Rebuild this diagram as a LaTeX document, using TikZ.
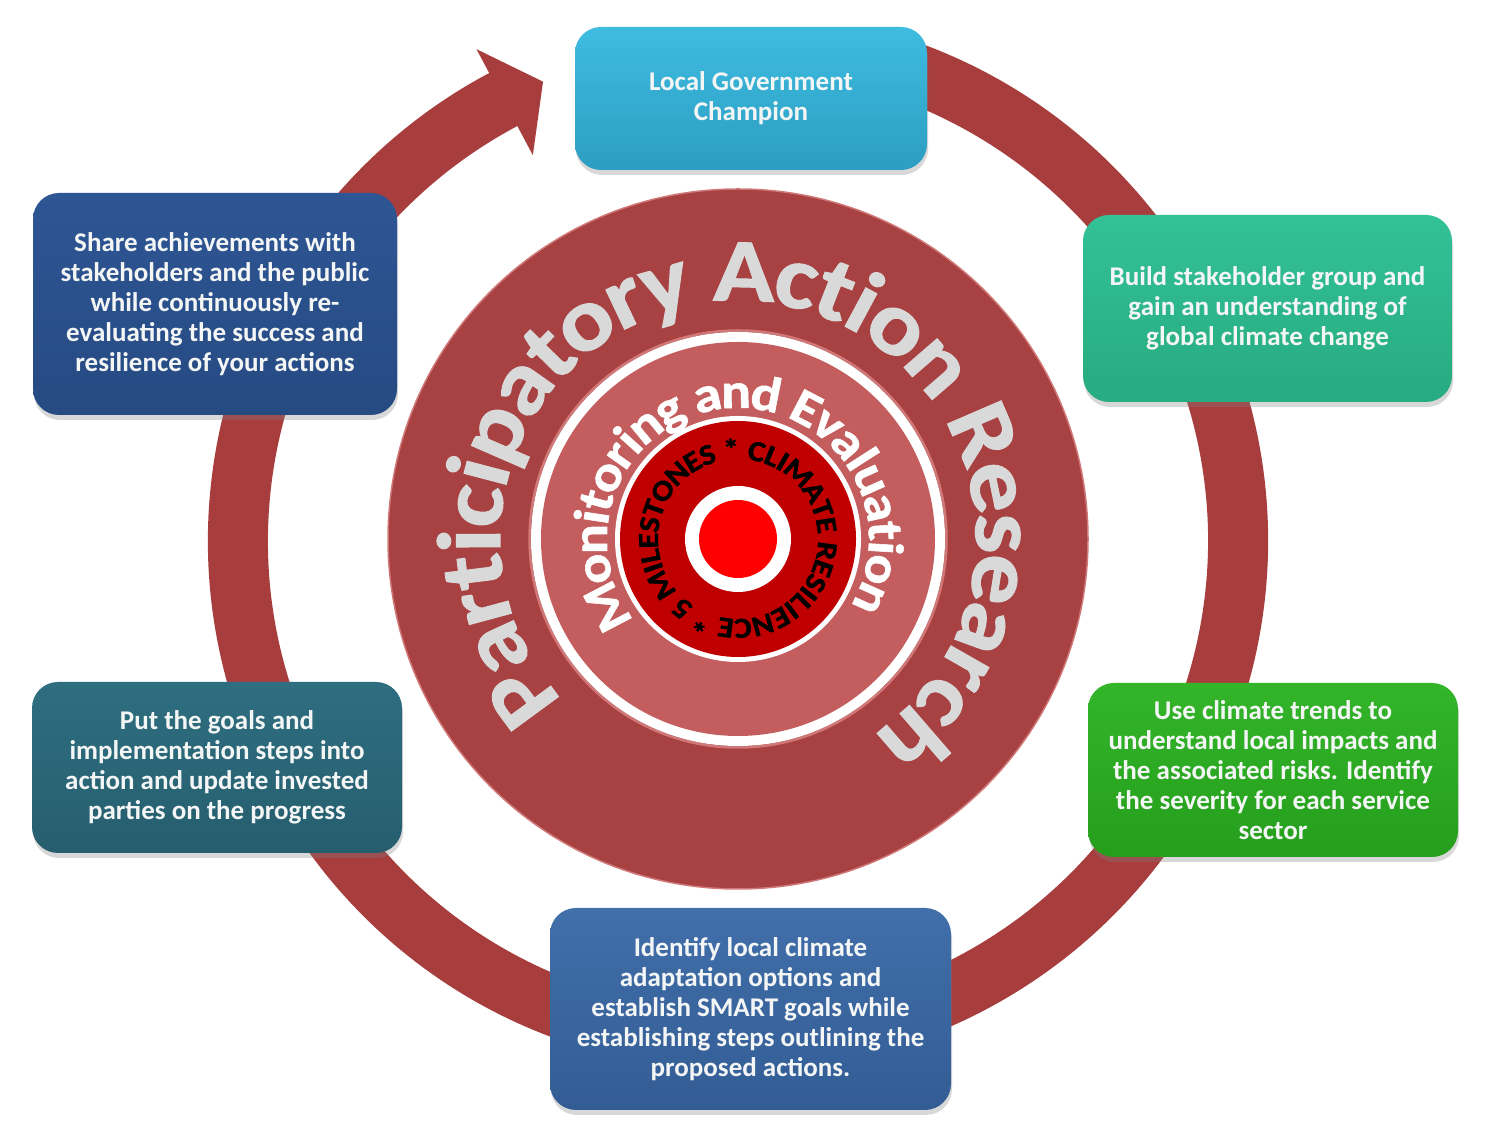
\documentclass[tikz,border=0pt]{standalone}
\usepackage{fontspec}
\setmainfont{Carlito}
\newfontfamily\arcfont[FakeStretch=1.12,FakeBold=1.2]{Carlito}
\usetikzlibrary{decorations.text,shadows}
\definecolor{ringred}{HTML}{A83D3D}
\definecolor{discred}{HTML}{A84141}
\definecolor{discedge}{HTML}{D07878}
\definecolor{pinkred}{HTML}{C45E5E}
\definecolor{darkred}{HTML}{C00000}
\definecolor{pargray}{HTML}{D9D9D9}
\definecolor{boxtext}{HTML}{F4F6F6}
\definecolor{cyanA}{HTML}{3EBCE0}\definecolor{cyanB}{HTML}{2C9DC2}
\definecolor{tealA}{HTML}{33C196}\definecolor{tealB}{HTML}{27AB80}
\definecolor{greenA}{HTML}{33B52A}\definecolor{greenB}{HTML}{259E1C}
\definecolor{blueA}{HTML}{416FAA}\definecolor{blueB}{HTML}{335C94}
\definecolor{petrolA}{HTML}{2E6E80}\definecolor{petrolB}{HTML}{265E6E}
\definecolor{navyA}{HTML}{2E5694}\definecolor{navyB}{HTML}{264A82}
\begin{document}
\begin{tikzpicture}[x=1pt,y=1pt,
  stepbox/.style={rounded corners=26pt, align=center, text=boxtext,
    font=\bfseries\fontsize{27}{30}\selectfont, inner sep=0pt,
    drop shadow={shadow xshift=1pt, shadow yshift=-5pt, opacity=0.3}},
  arctext/.style={decorate}]
\useasboundingbox (0,0) rectangle (1502,1127);
\fill[white] (0,0) rectangle (1502,1127);

\begin{scope}[shift={(738,586)}]
  % circular arrow
  \fill[ringred] (73:530pt) arc[start angle=73,end angle=-242,radius=530pt]
     -- (118:557pt) -- (113:499pt) -- (118:437pt) -- (118:470pt)
     arc[start angle=-242,end angle=73,radius=470pt] -- cycle;
\end{scope}
\begin{scope}[shift={(738,588)}]
  % discs
  \fill[discred] (0,0) circle[radius=350pt];
  \draw[discedge, line width=1.5pt] (0,0) circle[radius=350pt];
  \draw[discedge, line width=2.5pt] (0,0) circle[radius=208.5pt];
  \fill[white] (0,0) circle[radius=207pt];
  \fill[pinkred] (0,0) circle[radius=197pt];
  \fill[white] (0,0) circle[radius=123pt];
  \fill[darkred] (0,0) circle[radius=118pt];
  \fill[white] (0,0) circle[radius=53pt];
  \fill[red] (0,0) circle[radius=39pt];
  % curved texts
  \path[arctext, decoration={text along path, text color=pargray, raise=-27pt,
     text={|\arcfont\bfseries\fontsize{90}{90}\selectfont|Participatory Action Research},
     text align={fit to path}}]
     (222:265pt) arc[start angle=222,end angle=-55,radius=265pt];
  \path[arctext, decoration={text along path, text color=white, raise=-17pt,
     text={|\arcfont\bfseries\fontsize{50}{50}\selectfont|Monitoring and Evaluation},
     text align={fit to path}}]
     (217:148pt) arc[start angle=217,end angle=-30,radius=148pt];
  \path[arctext, decoration={text along path, text color=black, raise=-9pt,
     text={|\arcfont\bfseries\fontsize{29}{29}\selectfont|5 MILESTONES * CLIMATE RESILIENCE *},
     text align={fit to path}}]
     (236.5:89pt) arc[start angle=236.5,end angle=-119,radius=89pt];
\end{scope}

% step boxes
\node[stepbox, top color=cyanA, bottom color=cyanB, minimum width=352pt, minimum height=143pt]
  (champion) at (751,1028.5) {Local Government\\Champion};
\node[stepbox, top color=tealA, bottom color=tealB, minimum width=369pt, minimum height=187pt]
  (build) at (1267.5,818.5) {Build stakeholder group and\\gain an understanding of\\global climate change};
\node[stepbox, top color=greenA, bottom color=greenB, minimum width=370pt, minimum height=174pt]
  (trends) at (1273,357) {Use climate trends to\\understand local impacts and\\the associated risks. Identify\\the severity for each service\\sector};
\node[stepbox, top color=blueA, bottom color=blueB, minimum width=401pt, minimum height=202pt]
  (identify) at (750.5,118) {Identify local climate\\adaptation options and\\establish SMART goals while\\establishing steps outlining the\\proposed actions.};
\node[stepbox, top color=petrolA, bottom color=petrolB, minimum width=370pt, minimum height=171pt]
  (action) at (217,359.5) {Put the goals and\\implementation steps into\\action and update invested\\parties on the progress};
\node[stepbox, top color=navyA, bottom color=navyB, minimum width=364pt, minimum height=222pt]
  (share) at (215,823) {Share achievements with\\stakeholders and the public\\while continuously re-\\evaluating the success and\\resilience of your actions};
\end{tikzpicture}
\end{document}
